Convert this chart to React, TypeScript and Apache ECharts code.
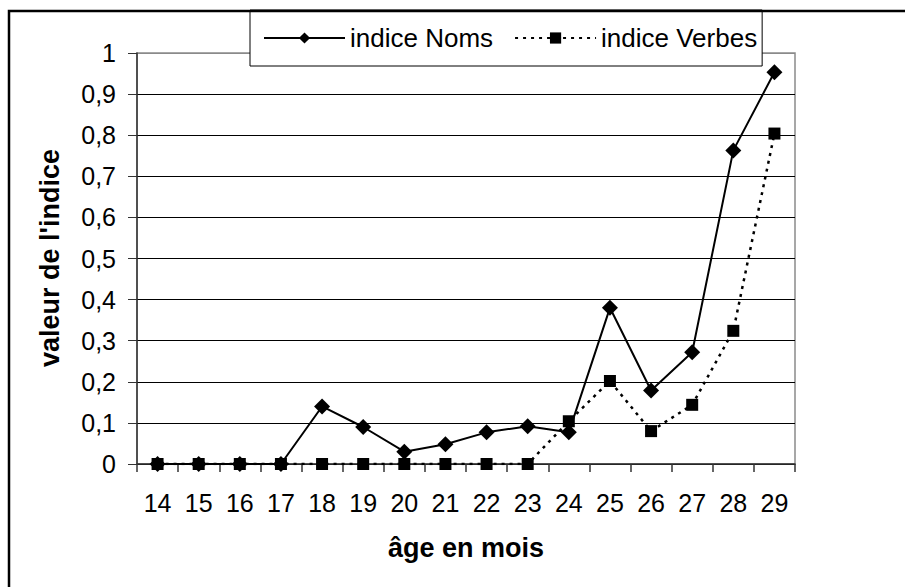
import React, { useEffect, useRef } from "react";
import * as echarts from "echarts";

const ages = ["14", "15", "16", "17", "18", "19", "20", "21", "22", "23", "24", "25", "26", "27", "28", "29"];
const indiceNoms = [0, 0, 0, 0, 0.14, 0.09, 0.03, 0.048, 0.077, 0.092, 0.077, 0.38, 0.179, 0.272, 0.763, 0.953];
const indiceVerbes = [0, 0, 0, 0, 0, 0, 0, 0, 0, 0, 0.104, 0.202, 0.08, 0.144, 0.324, 0.804];
const yTicks = [0, 0.1, 0.2, 0.3, 0.4, 0.5, 0.6, 0.7, 0.8, 0.9, 1];

const FONT = "'Liberation Sans', Arial, sans-serif";

export default function App() {
  const ref = useRef<HTMLDivElement>(null);
  useEffect(() => {
    if (!ref.current) return;
    const chart = echarts.init(ref.current, undefined, { renderer: "svg" });
    const splitColors = yTicks.map((v, i) => (i === yTicks.length - 1 ? "#8a8a8a" : "#000"));
    chart.setOption({
      animation: false,
      backgroundColor: "#fff",
      textStyle: { fontFamily: FONT },
      grid: {
        left: 137,
        right: 110,
        top: 53,
        bottom: 123,
        show: true,
        borderColor: "#8a8a8a",
        borderWidth: 1.5,
        backgroundColor: "transparent",
      },
      legend: {
        left: 250,
        top: 10,
        data: ["indice Noms", "indice Verbes"],
        itemWidth: 81,
        itemHeight: 14,
        itemGap: 21,
        padding: [15, 5, 15, 13],
        borderColor: "#000",
        borderWidth: 1,
        backgroundColor: "#fff",
        textStyle: { fontSize: 26, color: "#000", fontFamily: FONT },
      },
      xAxis: {
        type: "category",
        data: ages,
        boundaryGap: true,
        axisLine: { lineStyle: { color: "#333", width: 1.5 } },
        axisTick: { show: true, length: 8, lineStyle: { color: "#333", width: 1.5 } },
        axisLabel: { fontSize: 25, color: "#000", margin: 26, fontFamily: FONT },
        splitLine: { show: false },
      },
      yAxis: {
        type: "value",
        min: 0,
        max: 1,
        interval: 0.1,
        axisLine: { show: true, lineStyle: { color: "#333", width: 1.5 } },
        axisTick: { show: true, length: 9, lineStyle: { color: "#333", width: 1 } },
        axisLabel: {
          fontSize: 25,
          color: "#000",
          margin: 21,
          fontFamily: FONT,
          formatter: (v: number) => (Math.round(v * 10) / 10).toString().replace(".", ","),
        },
        splitLine: { show: true, lineStyle: { color: splitColors, width: 1 } },
      },
      graphic: [
        {
          type: "rect",
          shape: { x: 9, y: 11, width: 1200, height: 1200 },
          style: { fill: "none", stroke: "#000", lineWidth: 2.5 },
          z: 100,
          silent: true,
        },
        {
          type: "text",
          x: 466,
          y: 548,
          style: {
            text: "âge en mois",
            fontSize: 27,
            fontWeight: "bold",
            fontFamily: FONT,
            fill: "#000",
            align: "center",
            verticalAlign: "middle",
          },
        },
        {
          type: "text",
          x: 50,
          y: 258,
          rotation: Math.PI / 2,
          style: {
            text: "valeur de l'indice",
            fontSize: 27,
            fontWeight: "bold",
            fontFamily: FONT,
            fill: "#000",
            align: "center",
            verticalAlign: "middle",
          },
        },
      ],
      series: [
        {
          name: "indice Noms",
          type: "line",
          data: indiceNoms,
          symbol: "diamond",
          symbolSize: 16,
          itemStyle: { color: "#000" },
          lineStyle: { color: "#000", width: 2 },
          z: 3,
        },
        {
          name: "indice Verbes",
          type: "line",
          data: indiceVerbes,
          symbol: "rect",
          symbolSize: 12,
          itemStyle: { color: "#000" },
          lineStyle: { color: "#000", width: 2.5, type: [3, 5] },
          z: 4,
        },
      ],
    });
    return () => chart.dispose();
  }, []);
  return (
    <div
      ref={ref}
      style={{ position: "absolute", left: 0, top: 0, width: 905, height: 587 }}
    />
  );
}
